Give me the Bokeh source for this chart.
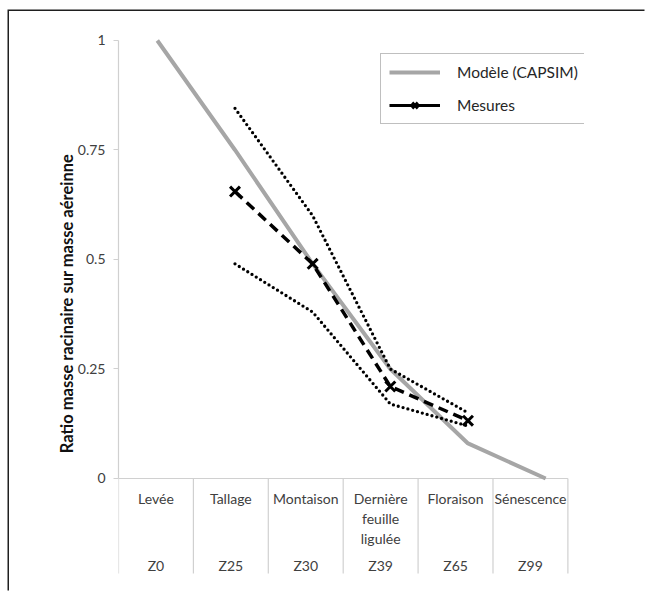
from bokeh.plotting import figure
from bokeh.models import Range1d, FixedTicker, Legend, LegendItem
from bokeh.core.properties import value
from bokeh.embed import file_html
from bokeh.resources import INLINE

# ---- data ----
stages = ["Levée", "Tallage", "Montaison", "Dernière\nfeuille\nligulée", "Floraison", "Sénescence"]
codes = ["Z0", "Z25", "Z30", "Z39", "Z65", "Z99"]
model = [1.0, 0.75, 0.49, 0.25, 0.08, 0.0]
meas_idx = [1, 2, 3, 4]
measures = [0.655, 0.49, 0.21, 0.132]
upper = [0.845, 0.60, 0.25, 0.15]
lower = [0.49, 0.38, 0.17, 0.12]
y_ticks = [0, 0.25, 0.5, 0.75, 1]
y_tick_labels = ["0", "0.25", "0.5", "0.75", "1"]

# ---- layout constants ----
FONT = "Lato"
TXT = "#404040"
GRID = "#d0d0d0"
table_depth = 0.217      # depth of the category table under the axis (y units)
y_lo, y_hi = -0.2215, 1.0205
n = len(stages)
stage_x = list(range(n))
NAN = float("nan")

p = figure(width=637, height=581, x_range=Range1d(-0.5, n - 0.5), y_range=Range1d(y_lo, y_hi),
           x_axis_location=None, output_backend="svg", toolbar_location=None,
           min_border_left=109, min_border_right=62, min_border_top=20, min_border_bottom=17)
p.margin = (11, 0, 0, 9)
p.styles = {"box-shadow": "-1.5px -1.5px 0 0 #1f1f1f"}
p.outline_line_color = None
p.grid.visible = False
p.extra_x_ranges = {"table": Range1d(0, n * 465.6 / 449)}

ax = p.yaxis[0]
ax.ticker = FixedTicker(ticks=y_ticks)
ax.major_label_overrides = {t: l for t, l in zip(y_ticks, y_tick_labels)}
ax.bounds = (0, 1)
ax.axis_line_color = GRID
ax.axis_line_width = 1.2
ax.major_tick_line_color = GRID
ax.major_tick_out = 5
ax.major_tick_in = 0
ax.minor_tick_line_color = None
ax.major_label_standoff = 8
ax.major_label_text_font = FONT
ax.major_label_text_font_size = "14px"
ax.major_label_text_color = TXT
ax.axis_label = "Ratio masse racinaire sur masse aéreinne"
ax.axis_label_text_font = FONT
ax.axis_label_text_font_style = "bold"
ax.axis_label_text_font_size = "16.5px"
ax.axis_label_text_color = "#111111"
ax.axis_label_standoff = -2

# ---- category table under the axis ----
bounds_x = list(range(n + 1))
p.segment(x0=bounds_x, y0=[0] * (n + 1), x1=bounds_x, y1=[-table_depth] * (n + 1),
          x_range_name="table", line_color=GRID, line_width=1.2)
p.segment(x0=[0], y0=[0], x1=[n], y1=[0], x_range_name="table", line_color=GRID, line_width=1.2)
centers = [i + 0.5 for i in range(n)]
p.text(x=centers, y=[0] * n, text=stages, x_range_name="table", text_align="center",
       text_baseline="top", y_offset=12, text_font=value(FONT), text_font_size="14px",
       text_color=TXT, text_line_height=1.15)
p.text(x=centers, y=[0] * n, text=codes, x_range_name="table", text_align="center",
       text_baseline="top", y_offset=79, text_font=value(FONT), text_font_size="14px",
       text_color=TXT)

# ---- series ----
r_model = p.line(stage_x, model, line_color="#a6a6a6", line_width=4)
p.line(meas_idx, upper, line_color="black", line_width=3.3, line_dash="0 5", line_cap="round")
p.line(meas_idx, lower, line_color="black", line_width=3.3, line_dash="0 5", line_cap="round")
p.line(meas_idx, measures, line_color="black", line_width=3.5, line_dash="10 6")
p.scatter(meas_idx, measures, marker="x", size=14, line_color="black", line_width=3)

# legend proxies (solid line with cross), no visible data
lg_line = p.line([NAN], [NAN], line_color="black", line_width=3)
lg_mark = p.scatter([NAN], [NAN], marker="x", size=11, line_color="black", line_width=3)

legend = Legend(items=[LegendItem(label="Modèle (CAPSIM)", renderers=[r_model]),
                       LegendItem(label="Mesures", renderers=[lg_line, lg_mark])],
                location=(262, 451), margin=0, padding=8, spacing=13,
                glyph_width=51, glyph_height=20, label_height=20, label_standoff=17,
                label_text_font=FONT, label_text_font_size="15.5px", label_text_color="#262626",
                border_line_color="#808080", border_line_width=1.5,
                background_fill_color="white", background_fill_alpha=1)
p.add_layout(legend)

open("out.html", "w").write(file_html(p, INLINE))
